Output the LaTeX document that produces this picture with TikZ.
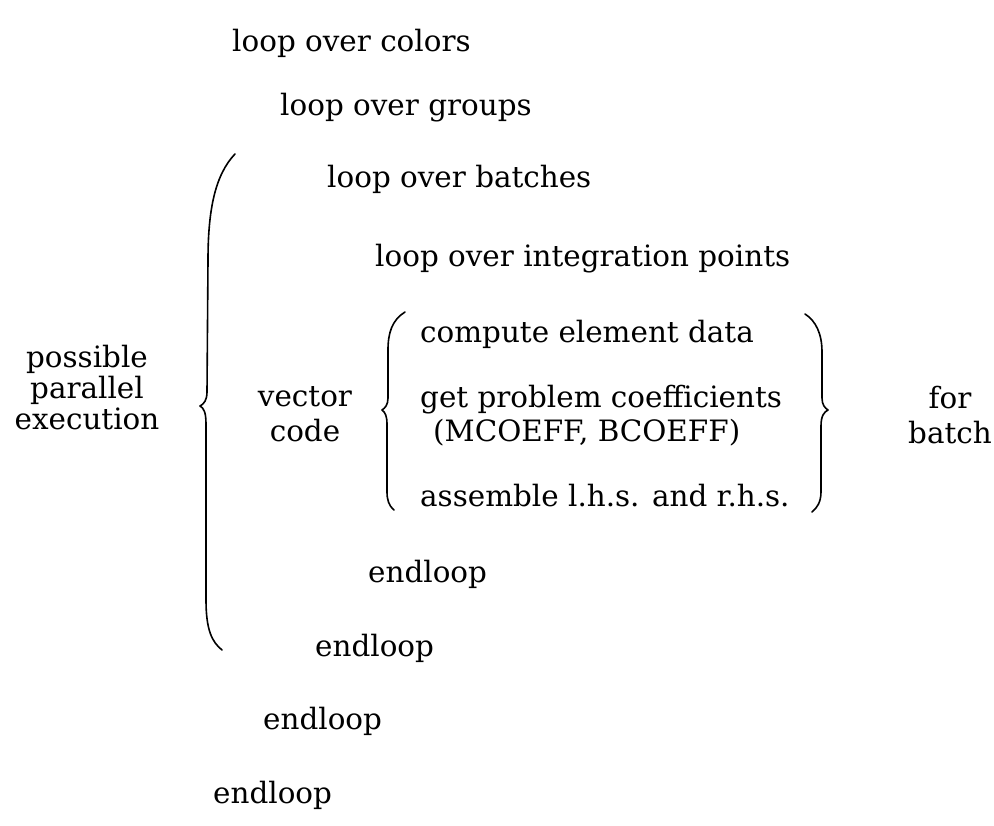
\documentclass[tikz,border=0pt]{standalone}
\usepackage{fontspec}
\setmainfont{DejaVu Serif}
\begin{document}
\begin{tikzpicture}[x=1pt,y=-1pt,
  lbl/.style={font=\fontsize{29.4}{36}\selectfont, inner sep=0pt, anchor=base west},
  mlbl/.style={font=\fontsize{29.4}{35}\selectfont, inner sep=0pt, align=center},
  brc/.style={line width=1.6pt, line cap=round, line join=round}]
\useasboundingbox (0,0) rectangle (994,826);

% nested loop structure
\node[lbl] (colors)  at (232,52)  {loop over colors};
\node[lbl] (groups)  at (280,116) {loop over groups};
\node[lbl] (batches) at (327,188) {loop over batches};
\node[lbl] (ipts)    at (375,267) {loop over integration points};
\node[lbl] (elem)    at (420,343) {compute element data};
\node[lbl] (coef)    at (420,407) {get problem coefficients};
\node[lbl] (coefarg) at (433,442) {(MCOEFF, BCOEFF)};
\node[lbl] (asm)     at (420,506) {assemble l.h.s. and r.h.s.};
\node[lbl] (end1)    at (368,582) {endloop};
\node[lbl] (end2)    at (315,656) {endloop};
\node[lbl] (end3)    at (263,729) {endloop};
\node[lbl] (end4)    at (213,803) {endloop};

% side annotations
\node[mlbl, font=\fontsize{29.4}{31}\selectfont] (par) at (87,388) {possible\\parallel\\execution};
\node[mlbl] (vec) at (305,414) {vector\\code};
\node[mlbl] (forb) at (950,415) {for\\batch};

% braces
\draw[brc] (235,154) .. controls (215,175) and (208,210) .. (208,260)
  -- (207,392) .. controls (207,400) and (204,404) .. (200,406)
  .. controls (204,408) and (206,413) .. (206,424)
  -- (206,600) .. controls (206,630) and (212,642) .. (222,650);
\draw[brc] (405,312) .. controls (392,320) and (388,333) .. (388,350)
  -- (388,398) .. controls (388,405) and (385,408) .. (382,410)
  .. controls (385,412) and (387,416) .. (387,424)
  -- (387,492) .. controls (387,500) and (389,506) .. (394,510);
\draw[brc] (805,314) .. controls (816,321) and (822,334) .. (822,352)
  -- (822,398) .. controls (822,405) and (825,408) .. (828,410)
  .. controls (824,412) and (821,416) .. (821,426)
  -- (821,492) .. controls (821,502) and (817,508) .. (812,512);
\end{tikzpicture}
\end{document}
